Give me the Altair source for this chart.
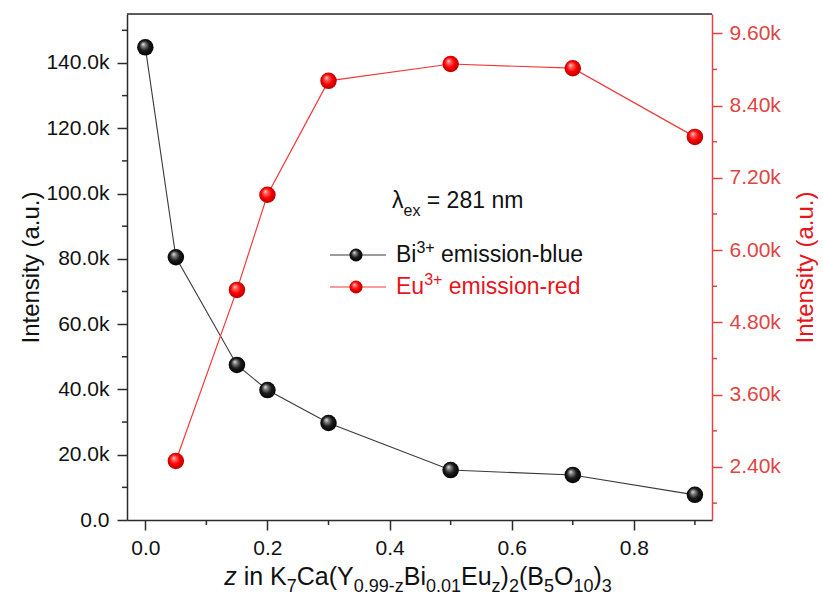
import altair as alt
import pandas as pd

# ---------------- data ----------------
z_bi = [0.0, 0.05, 0.15, 0.2, 0.3, 0.5, 0.7, 0.9]
bi_intensity = [144800, 80500, 47500, 39800, 29700, 15300, 13800, 7700]
z_eu = [0.05, 0.15, 0.2, 0.3, 0.5, 0.7, 0.9]
eu_intensity = [2500, 5340, 6920, 8810, 9090, 9020, 7880]

x_ticks = [0.0, 0.2, 0.4, 0.6, 0.8]
x_minor = [0.1, 0.3, 0.5, 0.7, 0.9]
left_ticks = [0, 20000, 40000, 60000, 80000, 100000, 120000, 140000]
left_minor = [10000, 30000, 50000, 70000, 90000, 110000, 130000, 150000]
right_ticks = [2400, 3600, 4800, 6000, 7200, 8400, 9600]
right_minor = [1800, 3000, 4200, 5400, 6600, 7800, 9000]

X_DOMAIN = [-0.03, 0.928]
LEFT_DOMAIN = [0, 155000]
RIGHT_DOMAIN = [1520, 9920]

W, H = 585, 506
FONT = "Liberation Sans"
DARK = "#2b2b2b"
RED_AXIS = "#E04545"
RED_TEXT = "#E8141C"
RED_LINE = "#F03A3A"

bi_df = pd.DataFrame({"z": z_bi, "v": bi_intensity})
eu_df = pd.DataFrame({"z": z_eu, "v": eu_intensity})
ONE = pd.DataFrame({"k": [0]})

BLACK_BALL = {
    "gradient": "radial", "x1": 0.36, "y1": 0.3, "r1": 0.0,
    "x2": 0.5, "y2": 0.5, "r2": 0.55,
    "stops": [
        {"offset": 0.0, "color": "#f4f4f4"},
        {"offset": 0.2, "color": "#8a8a8a"},
        {"offset": 0.55, "color": "#1a1a1a"},
        {"offset": 1.0, "color": "#000000"},
    ],
}
RED_BALL = {
    "gradient": "radial", "x1": 0.36, "y1": 0.3, "r1": 0.0,
    "x2": 0.5, "y2": 0.5, "r2": 0.55,
    "stops": [
        {"offset": 0.0, "color": "#ffe6e6"},
        {"offset": 0.2, "color": "#ff6a6a"},
        {"offset": 0.55, "color": "#ff0000"},
        {"offset": 1.0, "color": "#a80000"},
    ],
}

XAXIS = alt.Axis(values=x_ticks, format=".1f", title=None, grid=False,
                 tickSize=10, tickWidth=1.5, tickColor=DARK,
                 domainColor=DARK, domainWidth=1.5,
                 labelFont=FONT, labelFontSize=21, labelColor="#111",
                 labelPadding=7)
LAXIS = alt.Axis(values=left_ticks, title="Intensity (a.u.)", grid=False,
                 labelExpr="datum.value == 0 ? '0.0' : format(datum.value/1000, '.1f') + 'k'",
                 tickSize=10, tickWidth=1.5, tickColor=DARK,
                 domainColor=DARK, domainWidth=1.5,
                 labelFont=FONT, labelFontSize=21, labelColor="#111", labelPadding=8,
                 titleFont=FONT, titleFontSize=24, titleFontWeight="normal",
                 titleColor="#111", titleX=-89, titleY=H / 2, titleAngle=270,
                 titleBaseline="alphabetic", titleAlign="center")
RAXIS = alt.Axis(values=right_ticks, orient="right", title="Intensity (a.u.)", grid=False,
                 labelExpr="format(datum.value/1000, '.2f') + 'k'",
                 tickSize=10, tickWidth=1.5, tickColor=RED_AXIS,
                 domainColor=RED_AXIS, domainWidth=1.5,
                 labelFont=FONT, labelFontSize=21, labelColor=RED_AXIS, labelPadding=7,
                 titleFont=FONT, titleFontSize=24, titleFontWeight="normal",
                 titleColor=RED_TEXT, titleX=100, titleY=H / 2, titleAngle=270,
                 titleBaseline="alphabetic", titleAlign="center")


def xenc(field):
    return alt.X(f"{field}:Q", scale=alt.Scale(domain=X_DOMAIN, nice=False, zero=False), axis=XAXIS)


def yl(field):
    return alt.Y(f"{field}:Q", scale=alt.Scale(domain=LEFT_DOMAIN, nice=False, zero=False), axis=LAXIS)


def yr(field):
    return alt.Y(f"{field}:Q", scale=alt.Scale(domain=RIGHT_DOMAIN, nice=False, zero=False), axis=RAXIS)


# ---------------- left (Bi) ----------------
bi_line = alt.Chart(bi_df).mark_line(color="#3a3a3a", strokeWidth=1.1).encode(x=xenc("z"), y=yl("v"))
bi_pts = alt.Chart(bi_df).mark_circle(fill=BLACK_BALL, opacity=1, size=272, strokeWidth=0).encode(
    x=xenc("z"), y=yl("v"))
lminor = alt.Chart(pd.DataFrame({"m": left_minor})).mark_rule(color=DARK, strokeWidth=1.5).encode(
    y=yl("m"), x=alt.value(0), x2=alt.value(-5))
left = alt.layer(bi_line, bi_pts, lminor)

# ---------------- right (Eu) ----------------
eu_line = alt.Chart(eu_df).mark_line(color=RED_LINE, strokeWidth=1.2).encode(x=xenc("z"), y=yr("v"))
eu_pts = alt.Chart(eu_df).mark_circle(fill=RED_BALL, opacity=1, size=272, strokeWidth=0).encode(
    x=xenc("z"), y=yr("v"))
rminor = alt.Chart(pd.DataFrame({"m": right_minor})).mark_rule(color=RED_AXIS, strokeWidth=1.5).encode(
    y=yr("m"), x=alt.value(W), x2=alt.value(W + 5))
right = alt.layer(eu_line, eu_pts, rminor)

# ---------------- frame / minor x ticks ----------------
xminor = alt.Chart(pd.DataFrame({"m": x_minor})).mark_rule(color=DARK, strokeWidth=1.5).encode(
    x=xenc("m"), y=alt.value(H), y2=alt.value(H + 5))
top_border = alt.Chart(ONE).mark_rule(color=DARK, strokeWidth=1.5).encode(
    x=alt.value(0), x2=alt.value(W), y=alt.value(0))

# ---------------- rich text helper ----------------
AW = {" ": 278, "(": 333, ")": 333, "+": 584, "-": 333, ".": 278, "=": 584,
      "B": 667, "C": 722, "E": 667, "K": 667, "O": 778, "Y": 667, "I": 278,
      "a": 556, "b": 556, "d": 556, "e": 556, "i": 222, "l": 222, "m": 833,
      "n": 556, "o": 556, "s": 500, "r": 333, "u": 556, "x": 500, "z": 500,
      "λ": 500, "t": 278, "y": 500, "k": 500}


def tw(s, size):
    return sum(AW.get(c, 556) for c in s) * size / 1000.0


def seg(text, x, y, size, color, style="normal"):
    # leading/trailing blanks are collapsed in SVG text: skip them by shifting x
    lead = len(text) - len(text.lstrip(" "))
    x = x + tw(" " * lead, size)
    return alt.Chart(ONE).mark_text(text=text.strip(" "), align="left", baseline="alphabetic",
                                    fontSize=size, font=FONT, color=color, fontStyle=style).encode(
        x=alt.value(x), y=alt.value(y))


def rich(parts, x0, y0, color, main, small, sub_dy, sup_dy, center=False):
    sizes = [main if k in ("n", "i") else small for _, k in parts]
    widths = [tw(t, s) for (t, _), s in zip(parts, sizes)]
    x = x0 - sum(widths) / 2 if center else x0
    out = []
    for (t, k), s, w in zip(parts, sizes, widths):
        y = y0 + (sub_dy if k == "b" else (-sup_dy if k == "p" else 0))
        out.append(seg(t, x, y, s, color, "italic" if k == "i" else "normal"))
        x += w
    return out


title_parts = [("z", "i"), (" in K", "n"), ("7", "b"), ("Ca(Y", "n"), ("0.99-z", "b"), ("Bi", "n"),
               ("0.01", "b"), ("Eu", "n"), ("z", "b"), (")", "n"), ("2", "b"), ("(B", "n"), ("5", "b"),
               ("O", "n"), ("10", "b"), (")", "n"), ("3", "b")]
xtitle = rich(title_parts, 418 - 127, 585 - 14, "#111", 25, 18, 7, 0, center=True)

lam = rich([("λ", "n"), ("ex", "b"), (" = 281 nm", "n")], 392 - 127, 208 - 14, "#111", 23, 16, 8, 0)
bi_txt = rich([("Bi", "n"), ("3+", "p"), (" emission-blue", "n")], 396 - 127, 262 - 14, "#111", 23, 16, 0, 9)
eu_txt = rich([("Eu", "n"), ("3+", "p"), (" emission-red", "n")], 396 - 127, 294 - 14, RED_TEXT, 23, 16, 0, 9)


# legend symbols
def leg_symbol(cy, line_color, ball):
    ln = alt.Chart(ONE).mark_rule(color=line_color, strokeWidth=1.2).encode(
        x=alt.value(330 - 127), x2=alt.value(386 - 127), y=alt.value(cy - 14))
    pt = alt.Chart(ONE).mark_circle(fill=ball, opacity=1, size=170, strokeWidth=0).encode(
        x=alt.value(356 - 127), y=alt.value(cy - 14))
    return [ln, pt]


legend = leg_symbol(255, "#3a3a3a", BLACK_BALL) + leg_symbol(287, RED_LINE, RED_BALL)

chart = alt.layer(
    left, right, xminor, top_border, *xtitle, *lam, *bi_txt, *eu_txt, *legend
).resolve_scale(y="independent").properties(
    width=W, height=H,
    autosize=alt.AutoSizeParams(type="none"),
    padding={"left": 127, "top": 14, "right": 823 - 127 - W, "bottom": 599 - 14 - H},
).configure_view(stroke=None).configure(background="white")

chart.save("out.html", embed_options={"renderer": "svg", "actions": False})
